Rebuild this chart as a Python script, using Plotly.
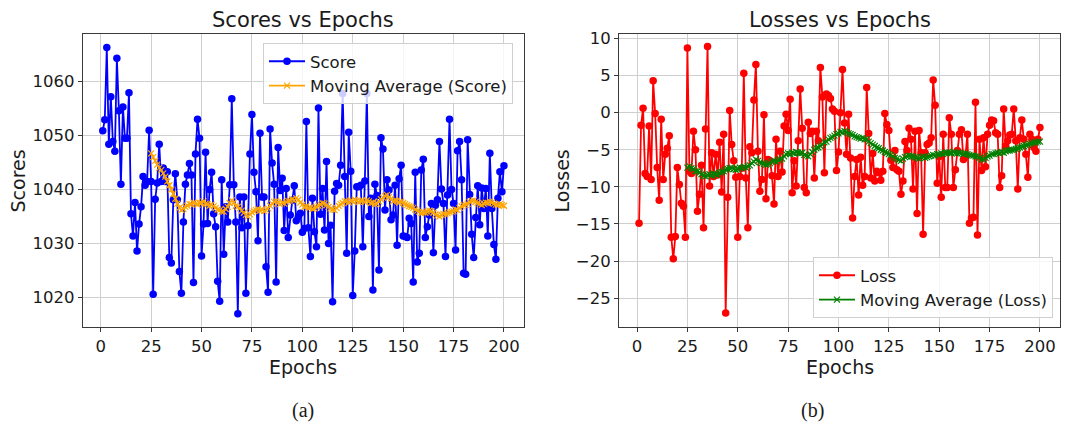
import plotly.graph_objects as go

W, H = 1068, 427

# ---------------- data ----------------
epochs = list(range(1, 201))

scores = [
    1050.9, 1052.9, 1066.3, 1048.4, 1057.2, 1048.9, 1047.1, 1064.3, 1054.6, 1041.0,
    1055.3, 1049.5, 1049.5, 1057.9, 1035.5, 1031.4, 1037.6, 1028.6, 1033.6, 1036.8,
    1042.4, 1040.8, 1041.5, 1051.0, 1041.5, 1020.6, 1038.2, 1041.2, 1048.4, 1041.5,
    1044.0, 1041.5, 1043.3, 1027.4, 1026.4, 1038.1, 1042.9, 1038.1, 1024.8, 1020.8,
    1034.0, 1041.0, 1042.7, 1044.8, 1042.7, 1022.8, 1046.6, 1053.0, 1049.5,
    1027.7, 1033.6, 1046.9, 1033.7, 1040.0, 1043.2, 1035.5, 1033.1, 1023.0, 1019.3,
    1041.8, 1028.0, 1036.8, 1034.0, 1040.9, 1056.8, 1040.9, 1034.0, 1017.0, 1038.6,
    1032.9, 1038.6, 1020.8, 1033.3, 1046.6, 1053.9, 1043.2, 1039.6, 1030.5, 1050.4,
    1038.6, 1038.6, 1025.7, 1021.0, 1051.2, 1044.9, 1041.0, 1022.9, 1047.8, 1039.8,
    1042.1, 1032.4, 1040.2, 1031.1, 1035.3,
    1038.0,
    1040.7, 1034.2, 1035.0, 1035.6, 1032.1, 1032.8, 1052.6, 1032.9, 1027.6, 1038.4,
    1032.2, 1029.4, 1055.1, 1035.4, 1040.2, 1032.5, 1045.2, 1030.0, 1033.4, 1019.2,
    1039.7, 1041.1, 1040.8, 1044.5, 1057.8, 1042.4, 1028.2, 1050.6, 1043.4, 1020.4,
    1028.6, 1040.5, 1040.5, 1040.8, 1029.4, 1041.6, 1057.8, 1035.0, 1038.4, 1021.4,
    1041.0, 1038.9, 1025.1, 1049.6, 1047.5, 1036.2, 1041.8, 1039.9, 1034.4, 1035.3,
    1040.8, 1029.7, 1042.0,
    1044.5, 1031.4, 1031.3, 1031.1, 1034.7, 1033.7, 1022.9, 1043.2, 1026.6, 1028.2,
    1043.6, 1045.6, 1031.1, 1033.1, 1035.3, 1037.4, 1028.3, 1037.1, 1038.1, 1048.9,
    1040.1, 1037.4, 1027.6, 1039.0, 1053.0, 1040.0, 1037.4, 1028.8, 1047.2, 1048.9,
    1041.8, 1024.5, 1024.3, 1049.2, 1039.1, 1031.7, 1027.4, 1034.8, 1040.7, 1033.5,
    1040.3, 1036.5, 1040.2, 1031.4, 1046.7, 1036.5, 1029.8, 1027.1, 1038.4, 1043.3,
    1039.6, 1044.4,
]

ma_epochs = list(range(25, 201))

score_ma = [
    1046.7, 1046.0, 1045.3, 1044.6, 1044.0, 1043.6, 1043.0, 1042.4, 1041.5, 1040.8,
    1040.0, 1039.2, 1038.3, 1037.4, 1036.6, 1036.2, 1036.4, 1036.8, 1037.0, 1037.3,
    1037.3, 1037.6, 1037.4, 1037.2, 1037.5, 1037.5, 1037.8, 1037.4, 1037.3, 1037.0,
    1037.2, 1036.9, 1036.6, 1036.3, 1036.2, 1035.9, 1035.9, 1036.4, 1036.8, 1037.5,
    1038.0, 1037.6, 1037.0, 1036.8, 1036.5, 1036.1, 1035.7, 1035.3, 1035.0, 1035.4,
    1035.8, 1036.0, 1036.2, 1036.4, 1036.1, 1036.3, 1036.0, 1036.2, 1036.5, 1037.0,
    1037.4, 1037.7, 1037.9, 1037.6, 1037.3, 1037.6, 1037.4, 1037.7, 1037.9, 1038.0,
    1038.2, 1038.0, 1038.4, 1038.1, 1037.6, 1037.2, 1036.8, 1036.9, 1036.6, 1036.7,
    1036.4, 1036.5, 1036.8, 1037.0, 1037.2, 1037.5, 1037.4, 1037.1, 1036.8, 1036.5,
    1036.3, 1036.2, 1036.6, 1037.0, 1037.3, 1037.5, 1037.8, 1037.9, 1037.6, 1038.0,
    1037.8, 1038.1, 1037.9, 1037.7, 1037.8, 1038.0, 1037.7, 1038.0, 1037.8, 1037.5,
    1037.6, 1037.3, 1037.4, 1037.8, 1038.2, 1038.5, 1038.8, 1039.0, 1038.6, 1038.3,
    1037.8, 1038.0, 1037.9, 1037.6, 1037.8, 1037.5, 1037.3, 1037.1, 1036.9, 1036.8,
    1036.6, 1036.3, 1036.1, 1035.9, 1035.6, 1035.8, 1035.7, 1035.9, 1036.1, 1036.0,
    1035.7, 1035.4, 1035.2, 1035.0, 1035.3, 1035.5, 1035.4, 1035.6, 1035.8, 1035.9,
    1036.0, 1036.3, 1036.2, 1036.6, 1036.9, 1037.1, 1037.2, 1037.4, 1037.7, 1037.9,
    1038.0, 1037.7, 1037.5, 1037.3, 1037.1, 1037.4, 1037.6, 1037.5, 1037.8, 1037.6,
    1037.4, 1037.2, 1037.1, 1037.3, 1037.1, 1037.0,
]

losses = [
    -14.9, -1.7, 0.6, -8.2, -8.6, -1.8, -9.0, 4.3, -0.1, -7.4,
    -11.8, -0.9, -9.0, -5.6, -4.8, -3.1, -16.8, -19.7, -16.7, -7.4,
    -9.7, -12.2, -12.6, -16.8, 8.7,
    -7.9, -8.2, -2.5, -5.0, -13.3, -11.0, -7.1, -15.5, -2.2, 8.9,
    -9.9, -5.4, -8.6, -5.6, -8.4, -4.0, -10.7, -2.9, -27.0, -11.4, 0.3, -4.3,
    -6.5, -8.7, -16.8, -8.6, -7.5, 5.3, -8.8, -15.5, -4.6, -5.4,
    1.7, 6.5, -5.2, -10.6, -9.0, -0.3, -11.6, -6.3, -6.5,
    -8.5, -12.3, -3.6, -8.6, -5.2, -8.0, -1.8, -0.2, -2.4, 1.8,
    -10.8, -6.5, -9.9, -3.8, 3.2, -2.1, -10.1, -10.8, -1.3, -2.8,
    -2.5, -8.8, -2.5, -3.8,
    6.1, 2.1, -8.1, 2.5, 2.3, 1.9, 0.5, 0.2, -7.8, -5.3,
    0.0, 5.8, -1.4, -5.6, -0.2, -6.1, -14.2, -8.6, -6.3, -11.1,
    -6.0, -9.8, -8.6, 3.4, -2.8, -8.8, -5.5, -9.2, -7.9, -8.1,
    -9.1, -7.9, -0.1, -1.6, -2.4, -6.4, -7.4, -5.1, -7.7, -7.9,
    -11.0, -9.2, -3.9, -5.1, -2.1, -3.6, -10.3, -2.5, -13.6, -2.4,
    -5.4, -16.4, -5.4, -4.3, -4.1,
    -3.4, 4.4, 1.0, -9.5, -5.9, -11.4, -2.9, -10.1, -10.1, -0.7,
    -2.9, -10.1, -7.7, -5.1, -2.9, -2.3, -6.3, -5.9, -2.9, -14.9,
    -14.2, -14.1, 1.4, -16.5, -3.6, -7.8, -3.4, -7.3, -2.9, -1.7,
    -1.0, -1.1, -2.7, -2.9, -10.1, -8.5, 0.5, -4.5, -3.8, -3.0,
    -2.9, 0.5, -3.8, -10.3, -3.4, -1.0, -3.6, -5.6, -8.7, -2.9,
    -3.6, -4.7, -5.2, -3.6, -2.0,
]

loss_ma = [
    -7.4, -7.2, -7.5, -7.6, -7.9, -7.9, -8.1, -8.3, -8.5, -8.6,
    -8.4, -8.3, -8.5, -8.2, -8.3, -8.4, -8.1, -8.0, -7.9, -7.7,
    -7.6, -7.5, -7.4, -7.6, -7.7, -7.6, -7.4, -7.5, -7.3, -7.4,
    -7.2, -7.1, -6.8, -6.6, -6.3, -6.5, -6.7, -6.8, -6.9, -7.0,
    -7.0, -6.8, -6.6, -6.5, -6.6, -6.4, -6.3, -6.2, -5.9, -5.6,
    -5.5, -5.6, -5.4, -5.5, -5.3, -5.4, -5.5, -5.4, -5.7, -5.8,
    -5.9, -5.6, -5.3, -5.0, -4.8, -4.7, -4.5, -4.3, -4.0, -3.9,
    -3.6, -3.4, -3.3, -3.1, -2.9, -2.8, -2.6, -2.7, -2.5, -2.6,
    -2.8, -2.9, -3.0, -3.2, -3.3, -3.4, -3.5, -3.4, -3.6, -3.6,
    -3.9, -4.1, -4.3, -4.5, -4.7, -4.8, -5.0, -5.1, -5.3, -5.4,
    -5.6, -5.7, -5.9, -6.1, -6.2, -6.4, -6.5, -6.2, -6.0, -5.9,
    -5.8, -5.9, -5.9, -6.0, -6.1, -6.2, -6.0, -5.9, -6.1, -6.0,
    -5.9, -5.8, -5.7, -5.8, -5.6, -5.6, -5.5, -5.6, -5.4, -5.4,
    -5.4, -5.5, -5.3, -5.4, -5.5, -5.4, -5.5, -5.6, -5.5, -5.6,
    -5.7, -5.8, -5.8, -5.9, -5.9, -6.1, -6.3, -6.3, -6.1, -5.9,
    -5.8, -5.6, -5.6, -5.5, -5.4, -5.5, -5.3, -5.4, -5.2, -5.1,
    -5.1, -5.0, -5.0, -4.9, -4.8, -4.7, -4.6, -4.5, -4.4, -4.3,
    -4.2, -4.1, -4.05, -4.0, -3.9, -3.9,
]

x_ticks = [0, 25, 50, 75, 100, 125, 150, 175, 200]
score_ticks = [1020, 1030, 1040, 1050, 1060]
loss_ticks = [-25, -20, -15, -10, -5, 0, 5, 10]
loss_tick_text = [str(v).replace("-", "\u2212") for v in loss_ticks]

# ---------------- layout helpers ----------------
FONT = "DejaVu Sans"
L_left, L_right = 82.7, 524.0
R_left, R_right = 619.0, 1060.0
P_top, P_bot = 34.0, 326.7


def px(x):
    return x / W


def py(y):
    return 1 - y / H


fig = go.Figure()

line_w = 1.8
fig.add_trace(go.Scatter(
    x=epochs, y=scores, mode="lines+markers", name="Score",
    line=dict(color="#0000ff", width=line_w),
    marker=dict(symbol="circle", size=7.5, color="#0000ff"),
    xaxis="x", yaxis="y", legend="legend",
))
fig.add_trace(go.Scatter(
    x=ma_epochs, y=score_ma, mode="lines+markers", name="Moving Average (Score)",
    line=dict(color="#ffa500", width=line_w),
    marker=dict(symbol="x-thin", size=6, color="#ffa500",
                line=dict(color="#ffa500", width=1.2)),
    xaxis="x", yaxis="y", legend="legend",
))
fig.add_trace(go.Scatter(
    x=epochs, y=losses, mode="lines+markers", name="Loss",
    line=dict(color="#ff0000", width=line_w),
    marker=dict(symbol="circle", size=7.5, color="#ff0000"),
    xaxis="x2", yaxis="y2", legend="legend2",
))
fig.add_trace(go.Scatter(
    x=ma_epochs, y=loss_ma, mode="lines+markers", name="Moving Average (Loss)",
    line=dict(color="#008000", width=line_w),
    marker=dict(symbol="x-thin", size=6, color="#008000",
                line=dict(color="#008000", width=1.2)),
    xaxis="x2", yaxis="y2", legend="legend2",
))

axis_common = dict(
    showgrid=True, gridcolor="#cfcfcf", gridwidth=1,
    showline=True, linecolor="#3a3a3a", linewidth=1, mirror=True,
    ticks="outside", ticklen=4, tickcolor="#3a3a3a", tickwidth=1,
    zeroline=False, automargin=False,
    tickfont=dict(family=FONT, size=16.5, color="#1a1a1a"),
)

fig.update_layout(
    width=W, height=H,
    margin=dict(l=0, r=0, t=0, b=0, autoexpand=False),
    paper_bgcolor="white", plot_bgcolor="white",
    font=dict(family=FONT, color="#1a1a1a"),
    xaxis=dict(domain=[px(L_left), px(L_right)], range=[-8.95, 209.95],
               tickvals=x_ticks, anchor="y", ticklabelstandoff=0, **axis_common),
    yaxis=dict(domain=[py(P_bot), py(P_top)], range=[1014.6, 1068.8],
               tickvals=score_ticks, anchor="x", **axis_common),
    xaxis2=dict(domain=[px(R_left), px(R_right)], range=[-8.95, 209.95],
                tickvals=x_ticks, anchor="y2", ticklabelstandoff=0, **axis_common),
    yaxis2=dict(domain=[py(P_bot), py(P_top)], range=[-28.85, 10.6],
                tickvals=loss_ticks, ticktext=loss_tick_text, anchor="x2",
                **axis_common),
    legend=dict(
        x=px(513), y=py(43), xanchor="right", yanchor="top",
        bgcolor="rgba(255,255,255,0.8)", bordercolor="#d0d0d0", borderwidth=1,
        font=dict(family=FONT, size=16.5, color="#1a1a1a"),
        tracegroupgap=0, itemwidth=36,
    ),
    legend2=dict(
        x=px(1053), y=py(318), xanchor="right", yanchor="bottom",
        bgcolor="rgba(255,255,255,0.8)", bordercolor="#d0d0d0", borderwidth=1,
        font=dict(family=FONT, size=16.5, color="#1a1a1a"),
        tracegroupgap=0, itemwidth=36,
    ),
    showlegend=True,
)

annos = [
    dict(text="Scores vs Epochs", x=px((L_left + L_right) / 2), y=py(20), size=21),
    dict(text="Losses vs Epochs", x=px((R_left + R_right) / 2), y=py(20), size=21),
    dict(text="Epochs", x=px((L_left + L_right) / 2), y=py(367), size=19),
    dict(text="Epochs", x=px((R_left + R_right) / 2), y=py(367), size=19),
]
for a in annos:
    fig.add_annotation(text=a["text"], x=a["x"], y=a["y"], xref="paper", yref="paper",
                       showarrow=False, xanchor="center", yanchor="middle",
                       font=dict(family=FONT, size=a["size"], color="#1a1a1a"))
for txt, xc in [("Scores", 17.5), ("Losses", 561.5)]:
    fig.add_annotation(text=txt, x=px(xc), y=py(181), xref="paper", yref="paper",
                       showarrow=False, xanchor="center", yanchor="middle", textangle=-90,
                       font=dict(family=FONT, size=19, color="#1a1a1a"))
for txt, xc in [("(a)", 303), ("(b)", 812)]:
    fig.add_annotation(text=txt, x=px(xc), y=py(410), xref="paper", yref="paper",
                       showarrow=False, xanchor="center", yanchor="middle",
                       font=dict(family="Liberation Serif", size=20, color="#1a1a1a"))

# remove the default 8px page margin so the figure sits at the window origin
fig.write_html("out.html",
               config={"displayModeBar": False},
               post_script="document.body.style.margin='0';document.body.style.overflow='hidden';")
